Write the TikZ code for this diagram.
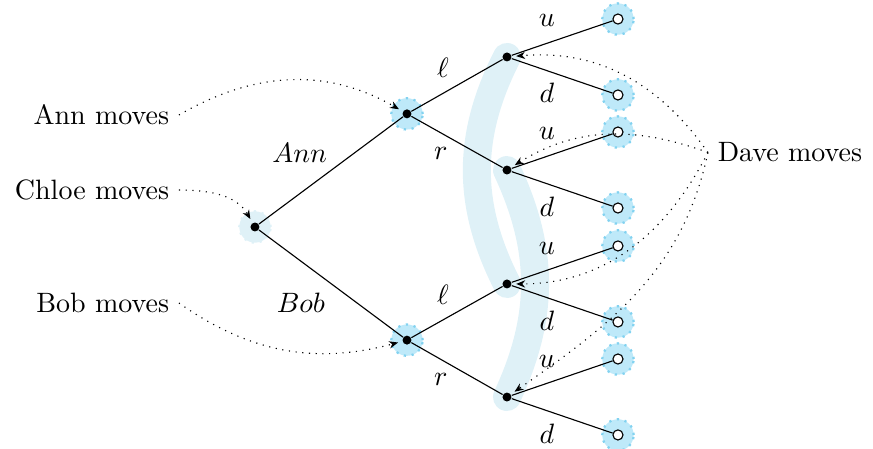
\documentclass[tikz,border=0pt]{standalone}
\usetikzlibrary{arrows.meta,positioning,backgrounds}
\definecolor{halofill}{RGB}{190,233,249}
\definecolor{haloline}{RGB}{130,210,240}
\definecolor{setfill}{RGB}{223,241,247}

\begin{document}
\begin{tikzpicture}[
  dec/.style={circle, fill=black, inner sep=0pt, minimum size=3.2pt},
  term/.style={circle, draw, fill=white, inner sep=0pt, minimum size=3.6pt},
  halo/.style={fill=halofill, draw=haloline, dotted, thick},
  softhalo/.style={fill=setfill, draw=setfill, dotted, thick},
  infoset/.style={draw=setfill, line width=10pt, line cap=round},
  who/.style={dotted, -{Stealth[length=3.2pt,width=2.6pt]}, shorten >=1.5pt}
]
\useasboundingbox (-3.20,-2.786) rectangle (7.757,2.849);

% decision nodes
\node[dec] (root) at (0,0) {};
\node[dec] (ann) at (1.908,1.42) {};
\node[dec] (bob) at (1.908,-1.42) {};
\node[dec] (annl) at (3.163,2.134) {};
\node[dec] (annr) at (3.163,0.715) {};
\node[dec] (bobl) at (3.163,-0.715) {};
\node[dec] (bobr) at (3.163,-2.134) {};

% terminal nodes
\node[term] (annlu) at (4.556,2.61) {};
\node[term] (annld) at (4.556,1.657) {};
\node[term] (annru) at (4.556,1.192) {};
\node[term] (annrd) at (4.556,0.238) {};
\node[term] (boblu) at (4.556,-0.238) {};
\node[term] (bobld) at (4.556,-1.192) {};
\node[term] (bobru) at (4.556,-1.657) {};
\node[term] (bobrd) at (4.556,-2.61) {};

% highlights behind
\begin{scope}[on background layer]
  \draw[infoset] (annl.center) to[bend right=27] (bobl.center);
  \draw[infoset] (annr.center) to[bend left=25] (bobr.center);
  \draw[softhalo] (root) circle[radius=5.6pt];
  \foreach \n in {ann,bob,annlu,annld,annru,annrd,boblu,bobld,bobru,bobrd}
    \draw[halo] (\n) circle[radius=5.6pt];
\end{scope}

% moves
\draw (root) -- (ann);
\draw (root) -- (bob);
\draw (ann) -- (annl);
\draw (ann) -- (annr);
\draw (bob) -- (bobl);
\draw (bob) -- (bobr);
\draw (annl) -- (annlu);
\draw (annl) -- (annld);
\draw (annr) -- (annru);
\draw (annr) -- (annrd);
\draw (bobl) -- (boblu);
\draw (bobl) -- (bobld);
\draw (bobr) -- (bobru);
\draw (bobr) -- (bobrd);

% move labels
\node (lbann) at (0.56,0.929) {$Ann$};
\node (lbbob) at (0.577,-0.954) {$Bob$};
\node (lbal) at (2.36,1.996) {$\ell$};
\node (lbar) at (2.334,0.929) {$r$};
\node (lbbl) at (2.36,-0.853) {$\ell$};
\node (lbbr) at (2.334,-1.92) {$r$};
\node (lbalu) at (3.665,2.598) {$u$};
\node (lbald) at (3.665,1.682) {$d$};
\node (lbaru) at (3.665,1.18) {$u$};
\node (lbard) at (3.665,0.251) {$d$};
\node (lbblu) at (3.665,-0.264) {$u$};
\node (lbbld) at (3.665,-1.18) {$d$};
\node (lbbru) at (3.665,-1.694) {$u$};
\node (lbbrd) at (3.665,-2.598) {$d$};

% players
\node[anchor=east] (annmoves) at (-0.954,1.406) {Ann moves};
\node[anchor=east] (chloemoves) at (-0.954,0.464) {Chloe moves};
\node[anchor=east] (bobmoves) at (-0.954,-0.954) {Bob moves};
\node[anchor=west] (davemoves) at (5.685,0.935) {Dave moves};

\draw[who] (annmoves.east) to[out=30,in=150] (ann);
\draw[who] (chloemoves.east) to[out=0,in=120] (root);
\draw[who] (bobmoves.east) to[out=-35,in=195] (bob);
\draw[who] (davemoves.west) to[out=125,in=5] (annl);
\draw[who] (davemoves.west) to[out=160,in=32] (annr);
\draw[who] (davemoves.west) to[out=243,in=0] (bobl);
\draw[who] (davemoves.west) to[out=258,in=35] (bobr);
\end{tikzpicture}
\end{document}
